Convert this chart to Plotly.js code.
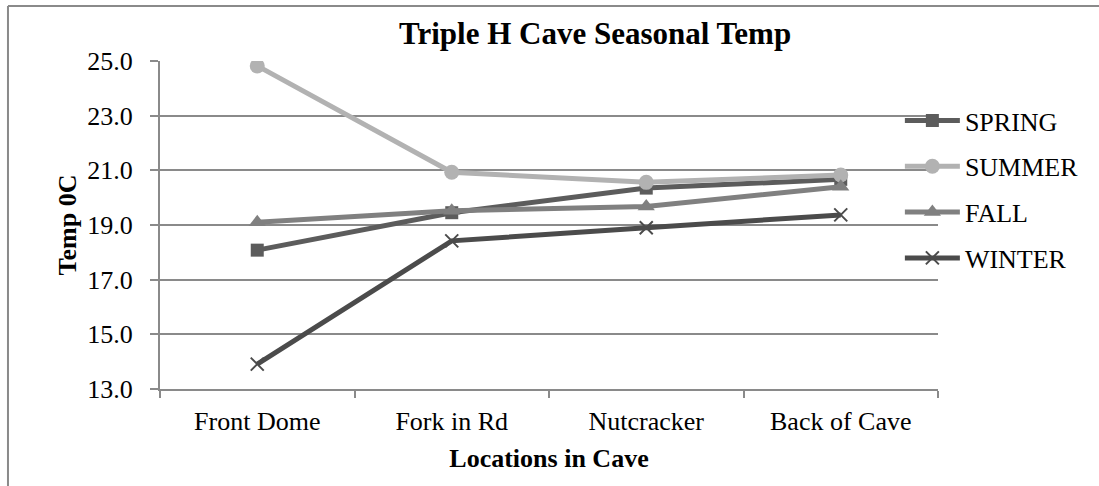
<!DOCTYPE html>
<html>
<head>
<meta charset="utf-8">
<script src="https://cdn.plot.ly/plotly-3.0.1.min.js"></script>
<style>html,body{margin:0;padding:0;background:#fff;}#chart{width:1099px;height:486px;}</style>
</head>
<body>
<div id="chart"></div>
<script>
const locations = ["Front Dome", "Fork in Rd", "Nutcracker", "Back of Cave"];
const spring = [18.08, 19.45, 20.35, 20.67];
const summer = [24.82, 20.93, 20.56, 20.83];
const fall   = [19.10, 19.52, 19.68, 20.40];
const winter = [13.91, 18.42, 18.90, 19.37];
const seriesNames = ["SPRING", "SUMMER", "FALL", "WINTER"];
const yTicks = [13, 15, 17, 19, 21, 23, 25];

const font = "Liberation Serif";
const colors = ["#5c5c5c", "#b2b2b2", "#808080", "#4b4b4b"];
const symbols = ["square", "circle", "triangle-up", "x-thin"];
const sizes = [13, 15, 15, 13];
const data = [spring, summer, fall, winter];

const traces = data.map((ys, i) => ({
  x: locations, y: ys, name: seriesNames[i], type: "scatter", mode: "lines+markers",
  legendgroup: "g" + i,
  line: {color: colors[i], width: 5},
  marker: i === 3
    ? {symbol: symbols[i], size: sizes[i], color: colors[i], line: {color: colors[i], width: 2}}
    : {symbol: symbols[i], size: sizes[i], color: colors[i]}
}));

const layout = {
  width: 1099, height: 486,
  margin: {l: 160, r: 161, t: 61, b: 97},
  paper_bgcolor: "#fff", plot_bgcolor: "#fff",
  font: {family: font, size: 26, color: "#000"},
  title: {text: "<b>Triple H Cave Seasonal Temp</b>", font: {family: font, size: 31, color: "#000"},
          x: 0.5415, xanchor: "center", y: 0.932, yanchor: "middle"},
  xaxis: {
    type: "category", tickson: "boundaries", ticks: "outside", ticklen: 7, tickwidth: 2, tickcolor: "#8a8a8a",
    showline: true, linecolor: "#8a8a8a", linewidth: 2, showgrid: false, zeroline: false,
    tickfont: {family: font, size: 26, color: "#000"}, ticklabelstandoff: 8,
    title: {text: "<b>Locations in Cave</b>", font: {family: font, size: 26, color: "#000"}, standoff: 14},
    range: [-0.5, 3.5]
  },
  yaxis: {
    range: [13, 25], tickvals: yTicks, tickformat: ".1f", ticks: "outside", ticklen: 8, tickwidth: 2, tickcolor: "#8a8a8a",
    showline: true, linecolor: "#8a8a8a", linewidth: 2, showgrid: true, gridcolor: "#8a8a8a", gridwidth: 2, zeroline: false,
    tickfont: {family: font, size: 26, color: "#000"}, ticklabelstandoff: 12,
    title: {text: "<b>Temp 0C</b>", font: {family: font, size: 26, color: "#000"}, standoff: 3}
  },
  legend: {x: 0.951, xanchor: "left", y: 0.89, yanchor: "top", bgcolor: "rgba(0,0,0,0)",
           font: {family: font, size: 26, color: "#000"}, tracegroupgap: 9, traceorder: "grouped", itemwidth: 55},
  showlegend: true,
  shapes: [
    {type: "line", xref: "paper", yref: "paper", x0: -0.1954, x1: -0.1954, y0: 1.1677, y1: -0.30, line: {color: "#8a8a8a", width: 2}},
    {type: "line", xref: "paper", yref: "paper", x0: -0.1954, x1: 1.21, y0: 1.1677, y1: 1.1677, line: {color: "#8a8a8a", width: 2}}
  ]
};

Plotly.newPlot("chart", traces, layout, {displayModeBar: false, staticPlot: true});
</script>
</body>
</html>
